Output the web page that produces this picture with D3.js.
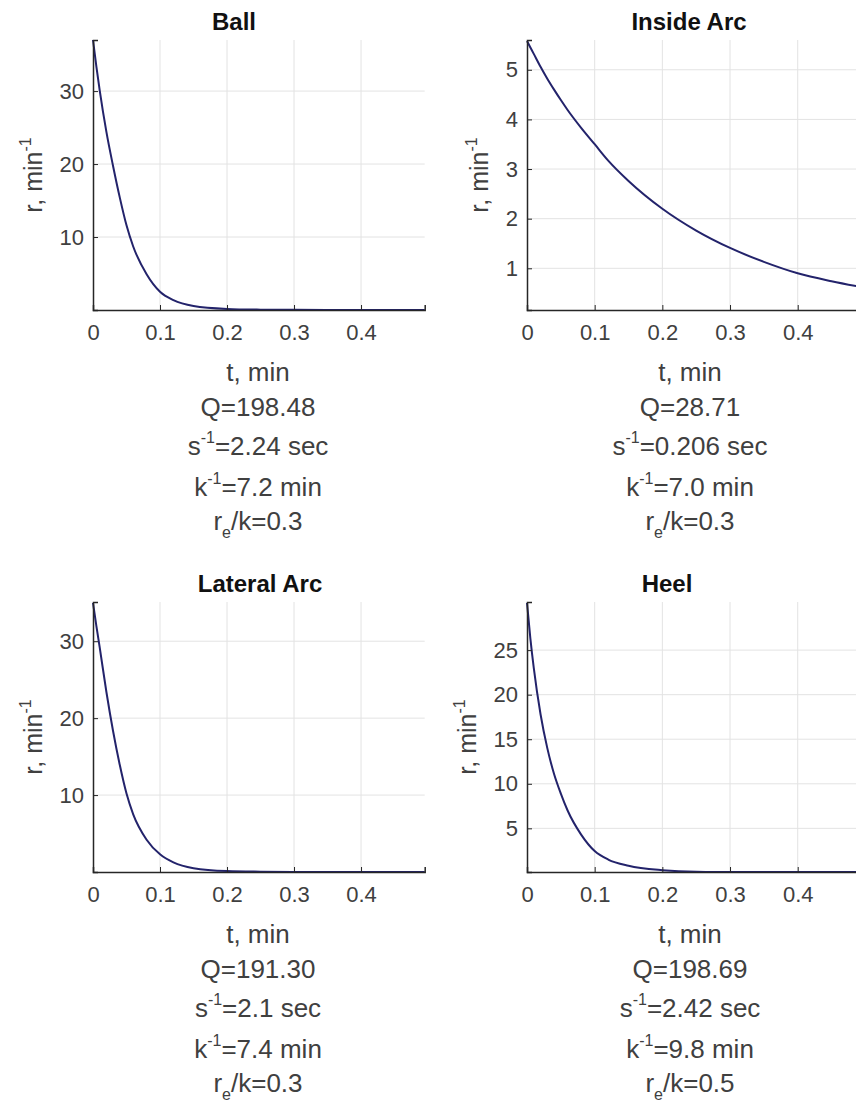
<!DOCTYPE html>
<html>
<head>
<meta charset="utf-8">
<script src="https://cdn.jsdelivr.net/npm/d3@7"></script>
<style>
  body { margin: 0; background: #fff; }
  svg { display: block; font-family: "Liberation Sans", Arial, sans-serif; }
</style>
</head>
<body>
<div id="graf"></div>
<script>
// I. Datos
titulos = ['Ball', 'Inside Arc', 'Lateral Arc', 'Heel']
tiempos = [0, 0.005, 0.01, 0.02, 0.03, 0.04, 0.05, 0.06, 0.08, 0.1, 0.12, 0.15, 0.2, 0.25, 0.3, 0.35, 0.4, 0.45, 0.495]
rBall    = [37, 33.4, 30.1, 24.4, 19.7, 15.4, 11.6, 8.7, 4.9, 2.5, 1.35, 0.55, 0.15, 0.05, 0.02, 0.01, 0, 0, 0]
rInside  = [5.58, 5.45, 5.32, 5.06, 4.82, 4.6, 4.39, 4.19, 3.83, 3.5, 3.17, 2.76, 2.2, 1.76, 1.41, 1.13, 0.9, 0.74, 0.62]
rLateral = [35, 32.0, 29.2, 23.4, 18.3, 13.9, 10.2, 7.5, 4.2, 2.3, 1.25, 0.5, 0.12, 0.04, 0.01, 0, 0, 0, 0]
rHeel    = [30.3, 26.3, 23.0, 17.8, 14.0, 11.1, 8.9, 7.0, 4.3, 2.45, 1.5, 0.8, 0.3, 0.12, 0.05, 0.02, 0.01, 0, 0]
yLimites = [[0, 37], [0.16, 5.6], [0, 35.1], [0.1, 30.4]]
yTicks = [[10, 20, 30], [1, 2, 3, 4, 5], [10, 20, 30], [5, 10, 15, 20, 25]]
xTicks = [0, 0.1, 0.2, 0.3, 0.4]
xMax = 0.495
valQ    = ['198.48', '28.71', '191.30', '198.69']
valS    = ['2.24', '0.206', '2.1', '2.42']
valK    = ['7.2', '7.0', '7.4', '9.8']
valReK  = ['0.3', '0.3', '0.3', '0.5']
series = [rBall, rInside, rLateral, rHeel]

// II. Configuración
ancho_total = 856
alto_total = 1105

// posición de cada panel (px)
paneles = [
  { x0: 93,  x1: 424.7, y0: 40,  y1: 310, cx: 258, tx: 234 },
  { x0: 527, x1: 862,   y0: 40,  y1: 310, cx: 690, tx: 689 },
  { x0: 93,  x1: 424.7, y0: 602, y1: 872, cx: 258, tx: 260 },
  { x0: 527, x1: 862,   y0: 602, y1: 872, cx: 690, tx: 667 }
]

svg = d3.select('#graf').append('svg')
        .attr('width', ancho_total)
        .attr('height', alto_total)

colorCurva = '#23236b'
colorEje = '#262626'
colorTexto = '#404040'
fuente = '"Liberation Sans", Arial, sans-serif'

// III. render
function render(i) {
  p = paneles[i]
  x = d3.scaleLinear().domain([0, xMax]).range([p.x0, p.x1])
  y = d3.scaleLinear().domain(yLimites[i]).range([p.y1, p.y0])

  g = svg.append('g')

  // grid
  g.selectAll('.gx').data(xTicks.slice(1)).enter().append('line')
   .attr('x1', d => x(d)).attr('x2', d => x(d))
   .attr('y1', p.y0).attr('y2', p.y1)
   .attr('stroke', '#e3e3e3').attr('stroke-width', 1)
  g.selectAll('.gy').data(yTicks[i]).enter().append('line')
   .attr('x1', p.x0).attr('x2', p.x1)
   .attr('y1', d => y(d)).attr('y2', d => y(d))
   .attr('stroke', '#e3e3e3').attr('stroke-width', 1)

  // curva
  datos = tiempos.map((t, j) => ({ t: t, r: series[i][j] }))
  linea = d3.line().x(d => x(d.t)).y(d => y(Math.max(d.r, yLimites[i][0])))
            .curve(d3.curveMonotoneX)
  g.append('path').datum(datos)
   .attr('d', linea)
   .attr('fill', 'none')
   .attr('stroke', colorCurva)
   .attr('stroke-width', 2)

  // ejes (ticks hacia adentro)
  ejeX = d3.axisBottom(x).tickValues(xTicks).tickSize(-5).tickPadding(11)
           .tickFormat(d => d === 0 ? '0' : d3.format('.1f')(d))
  gx = g.append('g').attr('transform', `translate(0, ${ p.y1 })`).call(ejeX)
  gx.attr('font-size', null).attr('font-family', null)
  gx.select('.domain').attr('stroke', colorEje).attr('stroke-width', 1.5)
  gx.selectAll('.tick line').attr('stroke', colorEje)
  gx.selectAll('.tick text').attr('font-size', '22px').attr('fill', colorTexto)
    .attr('dy', '0.85em').attr('font-family', fuente)

  ejeY = d3.axisLeft(y).tickValues(yTicks[i]).tickSize(-5).tickPadding(9)
           .tickFormat(d3.format('d'))
  gy = g.append('g').attr('transform', `translate(${ p.x0 }, 0)`).call(ejeY)
  gy.attr('font-size', null).attr('font-family', null)
  gy.select('.domain').attr('stroke', colorEje).attr('stroke-width', 1.5)
  gy.selectAll('.tick line').attr('stroke', colorEje)
  gy.selectAll('.tick text').attr('font-size', '22px').attr('fill', colorTexto)
    .attr('font-family', fuente)

  anchoTick = d3.max(gy.selectAll('.tick text').nodes(), n => n.getComputedTextLength())

  // título
  g.append('text').attr('x', p.tx).attr('y', p.y0 - 10)
   .attr('text-anchor', 'middle').attr('font-size', '24px').attr('font-weight', 'bold')
   .attr('fill', '#111').text(titulos[i])

  // etiqueta Y
  yl = g.append('text')
        .attr('transform', `translate(${ p.x0 - anchoTick - 27 }, ${ (p.y0 + p.y1) / 2 }) rotate(-90)`)
        .attr('text-anchor', 'middle').attr('font-size', '25px').attr('fill', colorTexto)
  yl.append('tspan').text('r, min')
  yl.append('tspan').attr('font-size', '16px').attr('dy', -11).text('-1')

  // etiqueta X (varias líneas)
  lineas = [
    { dy: 71,  partes: [['t, min', 0, 26]] },
    { dy: 106, partes: [['Q=' + valQ[i], 0, 26]] },
    { dy: 145, partes: [['s', 0, 26], ['-1', -12, 16], ['=' + valS[i] + ' sec', 12, 26]] },
    { dy: 186, partes: [['k', 0, 26], ['-1', -12, 16], ['=' + valK[i] + ' min', 12, 26]] },
    { dy: 220, partes: [['r', 0, 26], ['e', 8, 16], ['/k=' + valReK[i], -8, 26]] }
  ]
  lineas.forEach(l => {
    txt = g.append('text').attr('x', p.cx).attr('y', p.y1 + l.dy)
           .attr('text-anchor', 'middle').attr('fill', colorTexto)
    l.partes.forEach(pt => {
      txt.append('tspan').attr('dy', pt[1]).attr('font-size', pt[2] + 'px').text(pt[0])
    })
  })
}

// IV. Despliegue
titulos.forEach((d, i) => render(i))
</script>
</body>
</html>
